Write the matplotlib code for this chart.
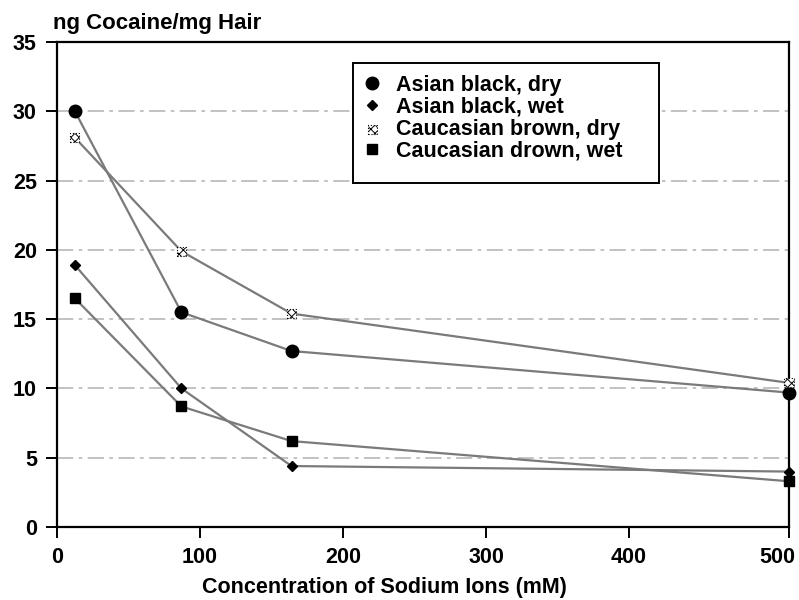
import numpy as np
import matplotlib
matplotlib.use("Agg")
import matplotlib.pyplot as plt
import matplotlib.transforms as mtransforms
from matplotlib.lines import Line2D
from matplotlib.patches import Rectangle

plt.rcParams['font.family'] = ['Liberation Sans', 'DejaVu Sans']
plt.rcParams['hatch.linewidth'] = 0.7

# Sodium ion concentration (mM)
sodium_mM = [12.5, 87, 164, 500]

# ng cocaine per mg hair
asian_black_dry = [30.0, 15.5, 12.7, 9.7]
asian_black_wet = [18.9, 10.0, 4.4, 4.0]
caucasian_brown_dry = [28.1, 19.9, 15.4, 10.4]
caucasian_brown_wet = [16.5, 8.7, 6.2, 3.3]

series_labels = ["Asian black, dry", "Asian black, wet",
                 "Caucasian brown, dry", "Caucasian drown, wet"]

x_ticks = [0, 100, 200, 300, 400, 500]
y_ticks = [0, 5, 10, 15, 20, 25, 30, 35]


# piecewise-linear concentration axis (last interval drawn a little wider)
def fwd(x):
    x = np.asarray(x, dtype=float)
    return np.where(x <= 400, x * 1.43, 572 + (x - 400) * 1.6)


def inv(u):
    u = np.asarray(u, dtype=float)
    return np.where(u <= 572, u / 1.43, 400 + (u - 572) / 1.6)


W, H = 799, 600
fig = plt.figure(figsize=(W / 100, H / 100), dpi=100)
ax = fig.add_axes([57 / W, 73 / H, 732 / W, 485 / H])
ax.set_xscale('function', functions=(fwd, inv))
ax.set_xlim(0, 500)
ax.set_ylim(0, 35)

FS = 15.5
line_color = '#7a7a7a'

# grid
for yv in y_ticks[1:-1]:
    ax.axhline(yv, color='#bdbdbd', lw=1.3, dashes=(9, 3, 2, 3), zorder=1)

# connecting lines
for ys in (asian_black_dry, asian_black_wet, caucasian_brown_dry, caucasian_brown_wet):
    ax.plot(sodium_mM, ys, color=line_color, lw=1.6, zorder=2, clip_on=False)

# markers
ax.plot(sodium_mM, asian_black_dry, ls='none', marker='o', ms=9,
        color='black', zorder=4, clip_on=False)
ax.plot(sodium_mM, asian_black_wet, ls='none', marker='D', ms=5.5,
        color='black', zorder=4, clip_on=False)
sc = ax.scatter(sodium_mM, caucasian_brown_dry, marker='s', s=42,
                facecolor='white', edgecolor='black', hatch='xxxx',
                linewidths=0.8, linestyles=':', zorder=4, clip_on=False)
ax.plot(sodium_mM, caucasian_brown_wet, ls='none', marker='s', ms=6.5,
        color='black', zorder=4, clip_on=False)

# axes styling
for s in ax.spines.values():
    s.set_linewidth(1.6)
    s.set_color('black')
ax.set_xticks(x_ticks)
ax.set_yticks(y_ticks)
ax.set_xticklabels([str(v) for v in x_ticks])
ax.set_yticklabels([str(v) for v in y_ticks])
ax.tick_params(axis='both', direction='out', length=8, width=1.4,
               labelsize=FS, pad=6.5)
for lab in ax.get_xticklabels() + ax.get_yticklabels():
    lab.set_fontweight('bold')
last = ax.get_xticklabels()[-1]
last.set_horizontalalignment('right')
last.set_transform(last.get_transform() +
                   mtransforms.ScaledTranslation(4.5 / 72, 0, fig.dpi_scale_trans))

# titles
fig.text(53 / W, 1 - 29 / H, "ng Cocaine/mg Hair", fontsize=16,
         fontweight='bold', ha='left', va='baseline')
fig.text(384 / W, 1 - 593 / H, "Concentration of Sodium Ions (mM)",
         fontsize=FS, fontweight='bold', ha='center', va='baseline')

# legend box
fig.patches.append(Rectangle((353 / W, 1 - 183 / H), 306 / W, 120 / H,
                             transform=fig.transFigure, facecolor='white',
                             edgecolor='black', lw=1.4, zorder=5))
handles = [
    Line2D([], [], ls='none', marker='o', ms=9, color='black'),
    Line2D([], [], ls='none', marker='D', ms=5.5, color='black'),
    sc,
    Line2D([], [], ls='none', marker='s', ms=6.5, color='black'),
]
leg = fig.legend(handles, series_labels, loc='upper left',
                 bbox_to_anchor=(353 / W, 1 - 66 / H), frameon=False,
                 borderaxespad=0, borderpad=0.4, handlelength=1.0,
                 handletextpad=0.6, labelspacing=0.05,
                 prop={'size': FS, 'weight': 'bold'})
leg.set_zorder(6)

fig.savefig("out.png", dpi=100)
